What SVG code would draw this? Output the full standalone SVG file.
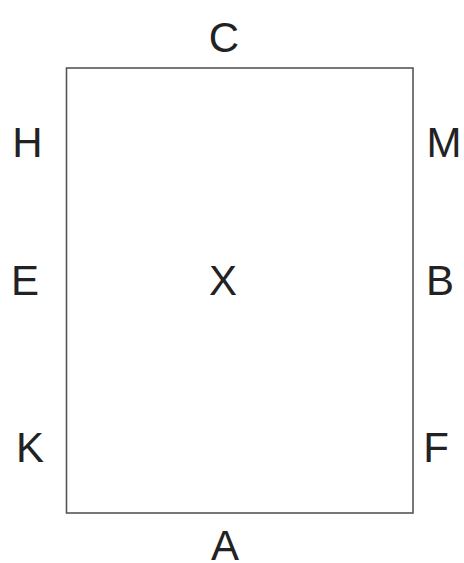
<svg xmlns="http://www.w3.org/2000/svg" width="464" height="563" viewBox="0 0 464 563">
<style>
.lbl{font-family:"Liberation Sans",Arial,sans-serif;font-size:42px;fill:#222;text-anchor:middle}
.box{fill:#fff;stroke:#555;stroke-width:1.6}
</style>
<rect width="464" height="563" fill="#fff"/>
<g id="region-X">
<rect class="box" x="66.5" y="68" width="346.5" height="445"/>
<text class="lbl" x="223" y="295">X</text>
</g>
<g id="label-C"><text class="lbl" x="224" y="52">C</text></g>
<g id="label-A"><text class="lbl" x="225" y="560">A</text></g>
<g id="label-H"><text class="lbl" x="27.5" y="157">H</text></g>
<g id="label-E"><text class="lbl" x="25" y="295">E</text></g>
<g id="label-K"><text class="lbl" x="30" y="462">K</text></g>
<g id="label-M"><text class="lbl" x="444" y="157">M</text></g>
<g id="label-B"><text class="lbl" x="440" y="295">B</text></g>
<g id="label-F"><text class="lbl" x="436" y="462">F</text></g>
<g id="connectors"></g>
</svg>
